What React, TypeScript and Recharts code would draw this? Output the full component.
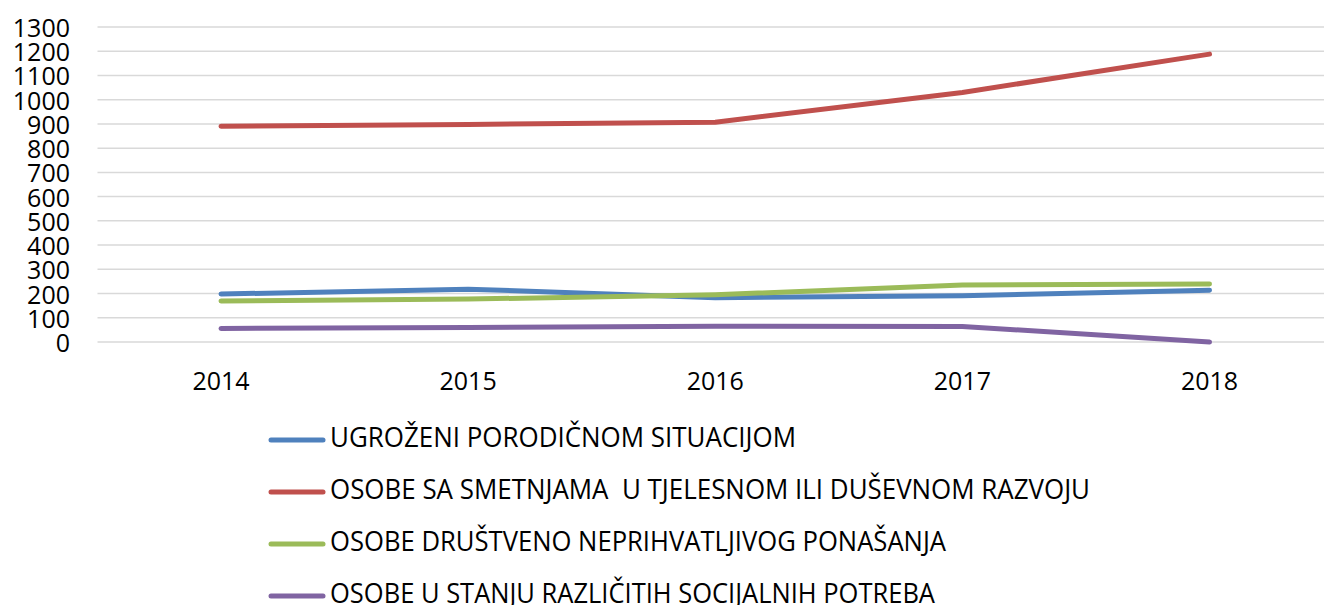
import React from "react";
import { LineChart, Line, XAxis, YAxis, CartesianGrid, Legend } from "recharts";

const years = ["2014", "2015", "2016", "2017", "2018"];
const ugrozeni = [198, 218, 183, 191, 214];
const smetnje = [890, 898, 907, 1030, 1188];
const drustveno = [169, 177, 195, 235, 239];
const socijalne = [56, 60, 65, 64, 0];
const yTicks = [0, 100, 200, 300, 400, 500, 600, 700, 800, 900, 1000, 1100, 1200, 1300];

const series = [
  { key: "ugrozeni", label: "UGROŽENI PORODIČNOM SITUACIJOM", color: "#4f81bd", textWidth: 466 },
  { key: "smetnje", label: "OSOBE SA SMETNJAMA  U TJELESNOM ILI DUŠEVNOM RAZVOJU", color: "#c0504d", textWidth: 760 },
  { key: "drustveno", label: "OSOBE DRUŠTVENO NEPRIHVATLJIVOG PONAŠANJA", color: "#9bbb59", textWidth: 616 },
  { key: "socijalne", label: "OSOBE U STANJU RAZLIČITIH SOCIJALNIH POTREBA", color: "#8064a2", textWidth: 605 },
];

const data = years.map((year, i) => ({
  year,
  ugrozeni: ugrozeni[i],
  smetnje: smetnje[i],
  drustveno: drustveno[i],
  socijalne: socijalne[i],
}));

const FONT = "'Open Sans', sans-serif";
const CHART_W = 1333;
const CHART_H = 605;
const LEGEND_H = 223;
const HALF_BAND = 123.5;

const YTick = ({ x, y, payload }: any) => (
  <text x={x - 27.5} y={y} textAnchor="end" dominantBaseline="central" fontSize={25} fill="#000" fontFamily={FONT}>
    {payload.value}
  </text>
);

const XTick = ({ x, y, payload }: any) => (
  <text x={x} y={y + 38} textAnchor="middle" dominantBaseline="central" fontSize={25} fill="#000" fontFamily={FONT}>
    {payload.value}
  </text>
);

// legend drawn as a vertical list under the plot, like the original
const LegendContent = () => (
  <div style={{ width: CHART_W, height: LEGEND_H }}>
    <svg width={CHART_W} height={LEGEND_H} style={{ display: "block", overflow: "visible" }}>
      {series.map((s, i) => {
        const cy = 55 + i * 52;
        return (
          <g key={s.key}>
            <line x1={271} x2={323} y1={cy + 3} y2={cy + 3} stroke={s.color} strokeWidth={5} strokeLinecap="round" />
            <text
              x={330}
              y={cy}
              dominantBaseline="central"
              fontSize={26.5}
              fontFamily={FONT}
              fill="#000"
              textLength={s.textWidth}
              lengthAdjust="spacingAndGlyphs"
              style={{ whiteSpace: "pre" }}
            >
              {s.label}
            </text>
          </g>
        );
      })}
    </svg>
  </div>
);

export default function App() {
  return (
    <div style={{ position: "absolute", left: 0, top: 0, width: 1324, height: 605, overflow: "hidden", background: "#fff" }}>
      <LineChart width={CHART_W} height={CHART_H} data={data} margin={{ top: 27, right: 0, left: 0, bottom: 0 }}>
        <CartesianGrid horizontal vertical={false} stroke="#d9d9d9" strokeWidth={1.5} />
        <XAxis
          dataKey="year"
          axisLine={false}
          tickLine={false}
          tickSize={0}
          tickMargin={0}
          height={40}
          tick={<XTick />}
          interval={0}
          padding={{ left: HALF_BAND, right: HALF_BAND }}
        />
        <YAxis
          domain={[0, 1300]}
          ticks={yTicks}
          interval={0}
          width={97.5}
          axisLine={false}
          tickLine={false}
          tickSize={0}
          tickMargin={0}
          tick={<YTick />}
        />
        <Legend
          verticalAlign="bottom"
          align="left"
          layout="horizontal"
          content={<LegendContent />}
          wrapperStyle={{ left: 0, bottom: 0, width: CHART_W, height: LEGEND_H }}
        />
        {series.map((s) => (
          <Line
            key={s.key}
            type="linear"
            dataKey={s.key}
            name={s.label}
            stroke={s.color}
            strokeWidth={5}
            strokeLinecap="round"
            strokeLinejoin="round"
            dot={false}
            activeDot={false}
            isAnimationActive={false}
          />
        ))}
      </LineChart>
    </div>
  );
}
